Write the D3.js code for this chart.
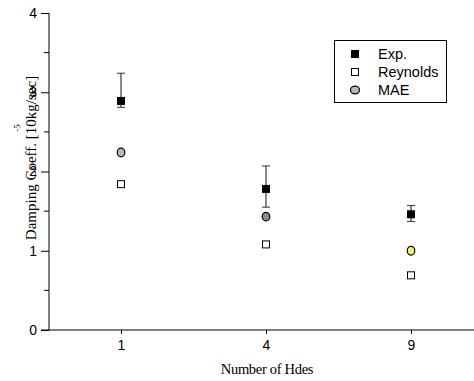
<!DOCTYPE html>
<html>
<head>
<meta charset="utf-8">
<script src="https://cdn.jsdelivr.net/npm/d3@7"></script>
<style>
  body { margin: 0; background: #fff; }
  svg { display: block; }
</style>
</head>
<body>
<svg id="chart" width="474" height="381"></svg>
<script>
const holes = ['1', '4', '9'];
const expValues = [2.89, 1.78, 1.46];
const expUpper = [3.24, 2.07, 1.57];
const expLower = [2.81, 1.55, 1.37];
const reynoldsValues = [1.84, 1.08, 0.69];
const maeValues = [2.24, 1.43, 1.00];
const maeColors = ['#b8b8b8', '#8c8c8c', '#f2f266'];
const yTicks = [0, 1, 2, 3, 4];

const svg = d3.select('#chart');

const x = d3.scalePoint().domain(holes).range([121, 411]);
const y = d3.scaleLinear().domain([0, 4]).range([330, 13]);

const sans = 'Liberation Sans, Arial, sans-serif';
const serif = 'Liberation Serif, Times New Roman, serif';

// axes
svg.append('line')
    .attr('x1', 41).attr('x2', 474)
    .attr('y1', y(0)).attr('y2', y(0))
    .attr('stroke', '#000');

const yAxis = svg.append('g')
    .attr('transform', 'translate(49,0)')
    .call(d3.axisLeft(y).tickValues(yTicks).tickFormat(d3.format('d')).tickSize(8).tickPadding(4));
yAxis.select('.domain').attr('d', `M0,${y(0)}V${y(4)}`);
yAxis.selectAll('text').attr('font-family', sans).attr('font-size', 14);

// minor ticks
svg.append('g').selectAll('line')
    .data(d3.range(0.5, 4, 1))
    .join('line')
        .attr('x1', 44).attr('x2', 49)
        .attr('y1', d => y(d)).attr('y2', d => y(d))
        .attr('stroke', '#000');

const xAxis = svg.append('g')
    .attr('transform', `translate(0,${y(0)})`)
    .call(d3.axisBottom(x).tickSize(4).tickPadding(6));
xAxis.select('.domain').remove();
xAxis.selectAll('text').attr('font-family', sans).attr('font-size', 14);

svg.append('text')
    .attr('x', 267).attr('y', 374)
    .attr('text-anchor', 'middle')
    .attr('font-family', serif).attr('font-size', 14.5)
    .attr('letter-spacing', -0.3)
    .text('Number of Hdes');

svg.append('text')
    .attr('transform', 'translate(36,158) rotate(-90)')
    .attr('text-anchor', 'middle')
    .attr('font-family', serif).attr('font-size', 15)
    .text('Damping Coeff. [10kg/sec]');

svg.append('text')
    .attr('transform', 'translate(20,128) rotate(-90)')
    .attr('text-anchor', 'middle')
    .attr('font-family', serif).attr('font-size', 9)
    .text('-5');

// error bars
const err = svg.append('g');
holes.forEach((h, i) => {
    err.append('line')
        .attr('x1', x(h)).attr('x2', x(h))
        .attr('y1', y(expUpper[i])).attr('y2', y(expLower[i]))
        .attr('stroke', '#888').attr('stroke-width', 2);
    [expUpper[i], expLower[i]].forEach(v => {
        err.append('line')
            .attr('x1', x(h) - 4).attr('x2', x(h) + 4)
            .attr('y1', y(v)).attr('y2', y(v))
            .attr('stroke', '#333').attr('stroke-width', 1);
    });
});

// Reynolds
svg.append('g').selectAll('rect')
    .data(reynoldsValues)
    .join('rect')
        .attr('x', (d, i) => x(holes[i]) - 3.5)
        .attr('y', d => y(d) - 3.5)
        .attr('width', 7).attr('height', 7)
        .attr('fill', '#fff').attr('stroke', '#000');

// MAE
svg.append('g').selectAll('ellipse')
    .data(maeValues)
    .join('ellipse')
        .attr('cx', (d, i) => x(holes[i]))
        .attr('cy', d => y(d))
        .attr('rx', 3.8).attr('ry', 4.3)
        .attr('fill', (d, i) => maeColors[i])
        .attr('stroke', '#000').attr('stroke-width', 1.2);

// Exp.
svg.append('g').selectAll('rect')
    .data(expValues)
    .join('rect')
        .attr('x', (d, i) => x(holes[i]) - 4)
        .attr('y', d => y(d) - 4)
        .attr('width', 8).attr('height', 8)
        .attr('fill', '#000');

// legend
const legend = svg.append('g');
legend.append('rect')
    .attr('x', 334.5).attr('y', 40.5)
    .attr('width', 112).attr('height', 62)
    .attr('fill', '#fff').attr('stroke', '#000');

const legendRows = [
    { label: 'Exp.', type: 'exp' },
    { label: 'Reynolds', type: 'rey' },
    { label: 'MAE', type: 'mae' }
];
const rowY = d3.scalePoint().domain(legendRows.map(d => d.label)).range([54, 90]);

legendRows.forEach(r => {
    const cy = rowY(r.label);
    if (r.type === 'exp') {
        legend.append('rect').attr('x', 351).attr('y', cy - 4).attr('width', 8).attr('height', 8).attr('fill', '#000');
    } else if (r.type === 'rey') {
        legend.append('rect').attr('x', 351.5).attr('y', cy - 3.5).attr('width', 7).attr('height', 7)
            .attr('fill', '#fff').attr('stroke', '#000');
    } else {
        legend.append('ellipse').attr('cx', 355).attr('cy', cy).attr('rx', 4.5).attr('ry', 3.8)
            .attr('fill', '#b8b8b8').attr('stroke', '#000').attr('stroke-width', 1.2);
    }
    legend.append('text')
        .attr('x', 378).attr('y', cy + 5)
        .attr('font-family', sans).attr('font-size', 14.5)
        .text(r.label);
});
</script>
</body>
</html>
